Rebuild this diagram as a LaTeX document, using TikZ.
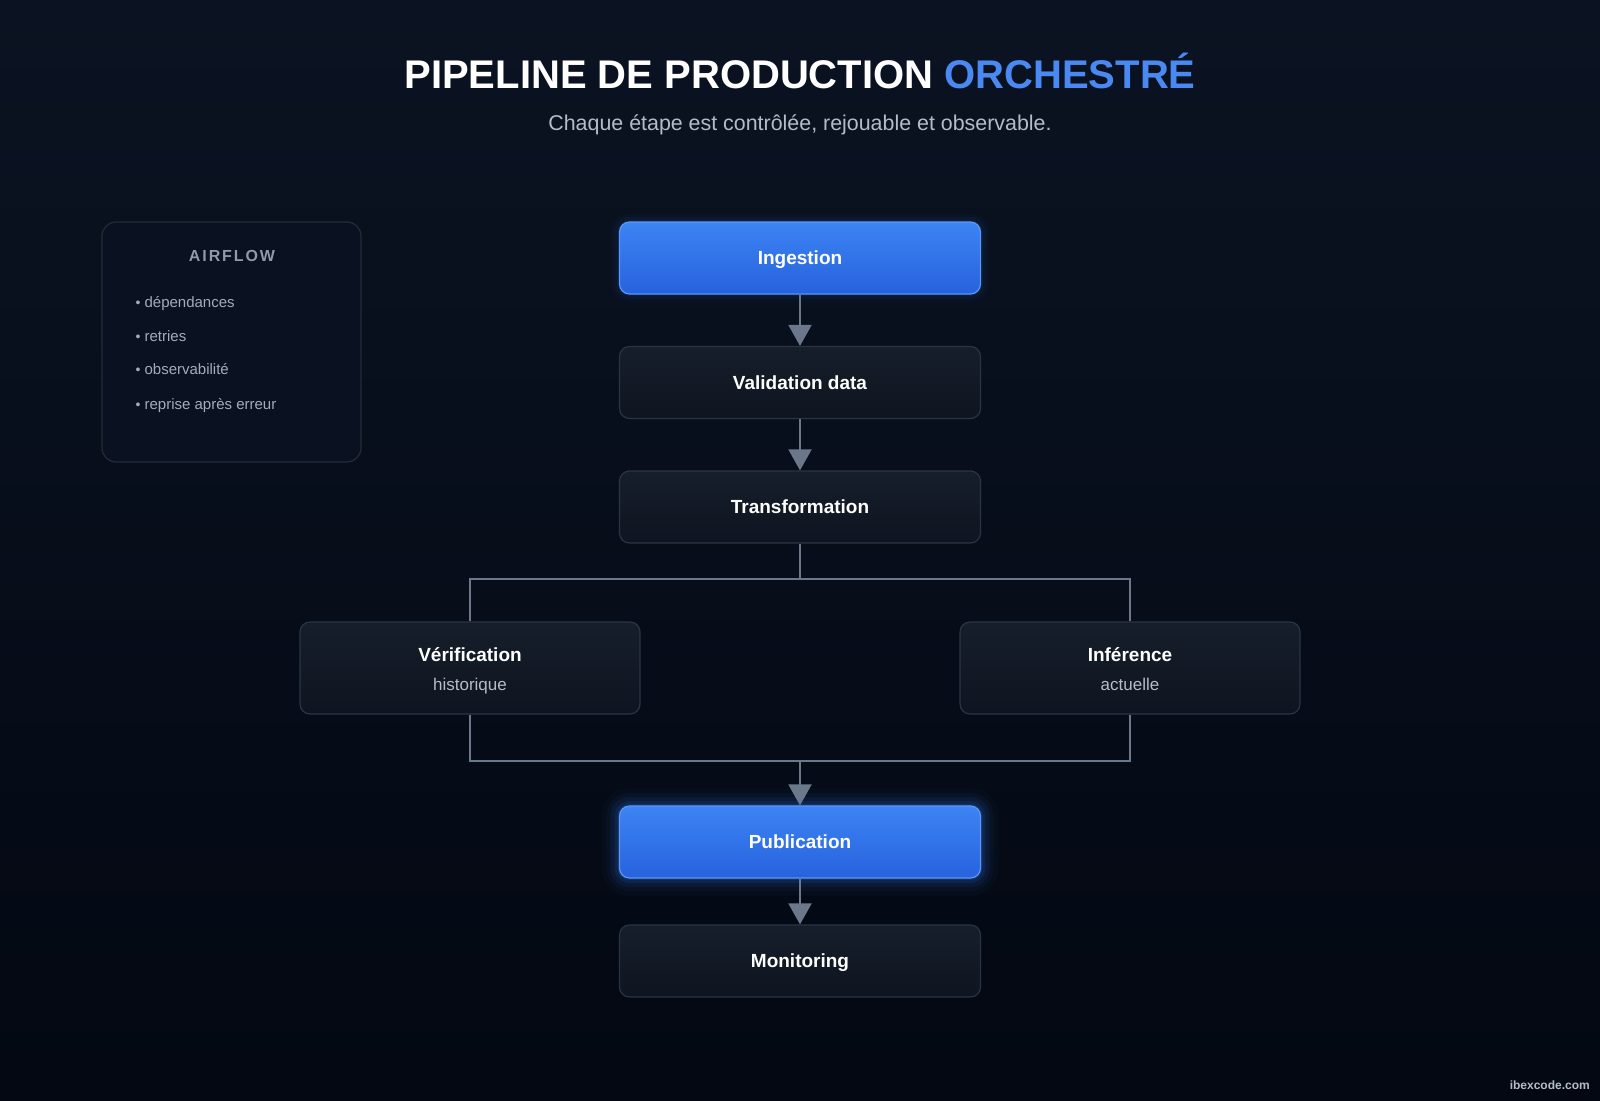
\documentclass[tikz,border=0pt]{standalone}
\usepackage{fontspec}
\setmainfont{Liberation Sans}
\newfontfamily\spacedfont[LetterSpace=12]{Liberation Sans}
\usetikzlibrary{arrows.meta}
\definecolor{bgtop}{HTML}{0B1322}
\definecolor{bgbot}{HTML}{030812}
\definecolor{boxtop}{HTML}{161E2B}
\definecolor{boxbot}{HTML}{0E1520}
\definecolor{boxline}{HTML}{2A3444}
\definecolor{bluetop}{HTML}{3D84F4}
\definecolor{bluebot}{HTML}{2662DD}
\definecolor{blueline}{HTML}{5C97F6}
\definecolor{glowcol}{HTML}{2F74F0}
\definecolor{linkcol}{HTML}{6B788C}
\definecolor{titleblue}{HTML}{4A88F2}
\definecolor{subgrey}{HTML}{B4BCC8}
\definecolor{notegrey}{HTML}{A3ACB9}
\definecolor{headgrey}{HTML}{8F9AAA}
\definecolor{panelfill}{HTML}{0A1120}
\definecolor{panelline}{HTML}{232C3B}
\begin{document}
\begin{tikzpicture}[x=1pt,y=-1pt,every node/.style={text=white,inner sep=0pt},
  stage/.style={draw=boxline,line width=1.2pt,rounded corners=10pt,top color=boxtop,bottom color=boxbot,minimum width=361pt,minimum height=72pt,font=\fontsize{19}{22}\selectfont\bfseries,text height=13.6pt,text depth=0pt},
  hot/.style={stage,draw=blueline,top color=bluetop,bottom color=bluebot},
  branch/.style={stage,minimum width=340pt,minimum height=92pt,align=center,text height=,text depth=},
  link/.style={draw=linkcol,line width=2pt},
  arr/.style={link,-{Triangle[length=21pt,width=23pt]}}]
% background
\fill[top color=bgtop,bottom color=bgbot] (0,0) rectangle (1600,1100);
\useasboundingbox (0,0) rectangle (1600,1100);
% title
\node[font=\fontsize{40}{44}\selectfont\bfseries,anchor=base] (title) at (800,88.5) {PIPELINE DE PRODUCTION \textcolor{titleblue}{ORCHESTRÉ}};
\node[font=\fontsize{21.4}{24}\selectfont,text=subgrey,anchor=base] (subtitle) at (800,130.5) {Chaque étape est contrôlée, rejouable et observable.};
% airflow panel
\draw[draw=panelline,fill=panelfill,line width=1.2pt,rounded corners=14pt] (102,222) rectangle (361,462);
\node[font=\fontsize{16}{18}\spacedfont\bfseries,text=headgrey] (airflow) at (232,256) {AIRFLOW};
\foreach \y/\txt in {307/dépendances,341/retries,374.5/observabilité,409/reprise après erreur}
  \node[anchor=base west,font=\fontsize{15}{18}\selectfont,text=notegrey] at (135.5,\y) {{\fontsize{14}{16}\selectfont•}\hspace{4pt}\txt};
% glow round the blue boxes
\foreach \g/\o in {18/0.03,13/0.05,9/0.08,5/0.12,2/0.18}
  \fill[glowcol,opacity=\o,rounded corners=10pt+\g] (619.5-\g,806-\g) rectangle (980.5+\g,878+\g);
\foreach \g/\o in {8/0.03,5/0.05,2/0.08}
  \fill[glowcol,opacity=\o,rounded corners=10pt+\g] (619.5-\g,222-\g) rectangle (980.5+\g,294+\g);
% stages
\node[hot] (ingest) at (800,258) {Ingestion};
\node[stage] (valid) at (800,382.5) {Validation data};
\node[stage] (trans) at (800,507) {Transformation};
\node[branch] (verif) at (470,668) {\rule{0pt}{20pt}Vérification\\[7pt]{\fontsize{17}{20}\selectfont\mdseries\color{subgrey}historique\vphantom{q}}};
\node[branch] (infer) at (1130,668) {\rule{0pt}{20pt}Inférence\\[7pt]{\fontsize{17}{20}\selectfont\mdseries\color{subgrey}actuelle\vphantom{q}}};
\node[hot] (pub) at (800,842) {Publication};
\node[stage] (monit) at (800,961) {Monitoring};
% connectors
\draw[arr] (ingest) -- (valid);
\draw[arr] (valid) -- (trans);
\draw[link] (trans.south) -- ++(0,35.5) -| (verif.north);
\draw[link] (trans.south) -- ++(0,35.5) -| (infer.north);
\coordinate (join) at (800,761);
\draw[link] (verif.south) |- (join);
\draw[link] (infer.south) |- (join);
\draw[arr] (join) -- (pub.north);
\draw[arr] (pub) -- (monit);
% watermark
\node[anchor=east,font=\fontsize{12}{14}\selectfont\bfseries,text=subgrey] (mark) at (1590,1085) {ibexcode.com};
\end{tikzpicture}
\end{document}
